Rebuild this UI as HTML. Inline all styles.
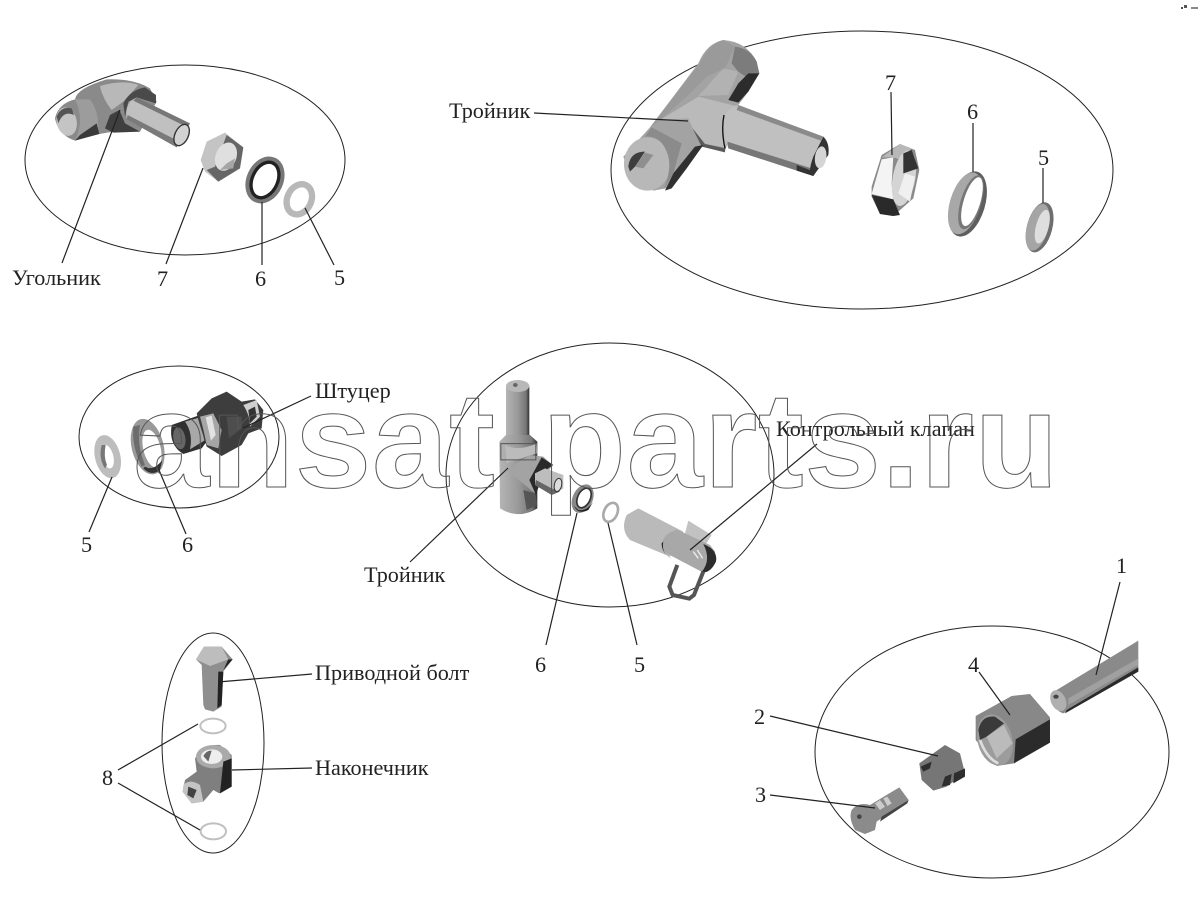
<!DOCTYPE html>
<html><head><meta charset="utf-8"><style>
html,body{margin:0;padding:0;background:#fff}
svg{display:block}
text.l{font-family:"Liberation Serif",serif;font-size:22.2px;fill:#222}
</style></head><body>
<svg width="1200" height="898" viewBox="0 0 1200 898" xmlns="http://www.w3.org/2000/svg">
<defs>
<linearGradient id="v1" x1="0" y1="0" x2="1" y2="0"><stop offset="0" stop-color="#b5b5b5"/><stop offset=".5" stop-color="#999"/><stop offset=".85" stop-color="#777"/><stop offset="1" stop-color="#333"/></linearGradient>
</defs>

<!-- ellipses -->
<g fill="none" stroke="#222" stroke-width="1">
<ellipse cx="185" cy="160" rx="160" ry="95"/>
<ellipse cx="862" cy="170" rx="251" ry="139"/>
<ellipse cx="179" cy="437" rx="100" ry="71"/>
<ellipse cx="610" cy="475" rx="164" ry="132"/>
<ellipse cx="213" cy="743" rx="51" ry="110"/>
<ellipse cx="992" cy="752" rx="177" ry="126"/>
</g>

<!-- A: elbow + nut + rings -->
<g transform="translate(30,60) scale(.3333)">
<path d="M75,175 Q85,130 135,118 Q140,85 230,58 Q310,55 360,85 L380,125 L330,215 L250,215 L190,225 L135,242 Q85,225 75,175Z" fill="#8a8a8a"/>
<path d="M135,118 L180,118 Q205,150 205,205 L135,242 Q165,180 135,118Z" fill="#9c9c9c"/>
<path d="M150,225 L200,190 L208,222 L135,242Z" fill="#3a3a3a"/>
<path d="M210,78 Q280,58 325,75 L280,125 L245,150 Q220,120 210,80Z" fill="#b8b8b8"/>
<path d="M225,205 L240,165 L268,150 L285,190 L330,215 L250,218Z" fill="#3f3f3f"/>
<path d="M280,130 Q300,90 345,82 L378,105 L378,130 L320,112 L295,125 L285,170Z" fill="#4a4a4a"/>
<ellipse cx="110" cy="185" rx="30" ry="43" transform="rotate(-12 110 185)" fill="#c4c4c4"/>
<path d="M80,170 Q92,138 125,145 L132,165 Q100,150 85,190Z" fill="#555"/>
<path d="M300,125 L320,112 L480,190 L440,262 L290,175 Q285,145 300,125Z" fill="#c0c0c0"/>
<path d="M320,112 L480,190 L473,202 L310,122Z" fill="#777"/>
<path d="M293,165 L448,245 L440,262 L290,178Z" fill="#7a7a7a"/>
<ellipse cx="455" cy="225" rx="20" ry="34" transform="rotate(25 455 225)" fill="#d2d2d2" stroke="#333" stroke-width="4"/>
<path d="M512,300 L530,245 L585,218 L640,262 L630,325 L565,365 L525,335Z" fill="#c4c4c4"/>
<path d="M590,225 L640,262 L630,325 L565,365 L530,330 L555,320Z" fill="#666"/>
<ellipse cx="588" cy="290" rx="31" ry="44" transform="rotate(22 588 290)" fill="#dfdfdf"/>
<path d="M570,330 L590,310 L615,295 L610,325Z" fill="#a5a5a5"/>
<ellipse cx="705" cy="360" rx="44" ry="62" transform="rotate(25 705 360)" fill="#fff" stroke="#777" stroke-width="22"/>
<ellipse cx="705" cy="360" rx="38" ry="56" transform="rotate(25 705 360)" fill="#fff" stroke="#222" stroke-width="10"/>
<ellipse cx="808" cy="418" rx="36" ry="47" transform="rotate(25 808 418)" fill="#fff" stroke="#b8b8b8" stroke-width="19"/>
</g>

<!-- B: tee + nut + rings -->
<g transform="translate(610,40) scale(.3333)">
<path d="M265,70 Q290,10 340,0 Q410,5 440,65 L448,100 L415,155 L385,195 L345,335 L275,315 L230,385 L185,442 L130,452 L60,410 L40,350 L120,262Z" fill="#a3a3a3"/>
<path d="M270,70 Q295,15 340,0 L375,20 L345,85 L290,110 L230,170 L150,240 L120,262Z" fill="#9a9a9a"/>
<path d="M340,85 L385,95 L355,165 L265,168Z" fill="#b2b2b2"/>
<path d="M375,20 Q420,25 440,65 L448,100 L415,115 L385,95 L365,70Z" fill="#7c7c7c"/>
<path d="M415,100 L448,100 L415,155 L385,188 L355,180 L385,130Z" fill="#2c2c2c"/>
<path d="M150,240 L265,170 L385,200 L345,322 L280,310 L248,265 L235,235Z" fill="#bababa"/>
<path d="M248,265 L285,312 L345,325 L345,337 L275,320Z" fill="#5a5a5a"/>
<path d="M190,400 L255,320 L280,315 L230,385 L185,445 L165,452Z" fill="#303030"/>
<path d="M345,225 Q355,205 385,195 L640,290 L655,340 L610,408 L355,325 Q335,280 345,225Z" fill="#c0c0c0"/>
<path d="M385,195 L640,290 L632,302 L380,210Z" fill="#8a8a8a"/>
<path d="M352,305 L605,385 L610,408 L355,325Z" fill="#777"/>
<path d="M560,375 L612,395 L610,408 L560,392Z" fill="#333"/>
<path d="M342,225 Q333,270 345,325" fill="none" stroke="#111" stroke-width="4"/>
<ellipse cx="112" cy="372" rx="70" ry="80" fill="#b8b8b8"/>
<path d="M125,262 L215,310 L190,400 L160,450 Q190,380 170,335 Q150,285 105,290Z" fill="#8b8b8b"/>
<path d="M55,380 Q60,335 105,335 L75,380 L60,395Z" fill="#3e3e3e"/>
<path d="M75,380 L105,338 L130,345 L100,385Z" fill="#8f8f8f"/>
<path d="M640,290 Q660,310 655,345 L610,408 Q590,405 610,350Z" fill="#333"/>
<ellipse cx="632" cy="352" rx="17" ry="33" transform="rotate(8 632 352)" fill="#d5d5d5"/>
<path d="M785,440 L815,345 L870,312 L915,330 L928,390 L910,475 L850,528 L810,522 L785,470Z" fill="#8a8a8a"/>
<path d="M785,462 L815,358 L850,352 L845,430 L850,478Z" fill="#f4f4f4"/>
<path d="M815,352 L870,312 L905,325 L875,360 L850,352Z" fill="#b8b8b8"/>
<path d="M785,465 L850,478 L870,525 L850,528 L810,522Z" fill="#2a2a2a"/>
<ellipse cx="882" cy="415" rx="34" ry="84" transform="rotate(10 882 415)" fill="#d4d4d4"/>
<path d="M880,340 L905,330 L925,385 L880,400Z" fill="#333"/>
<path d="M865,460 L885,400 L915,410 L900,485Z" fill="#f0f0f0"/>
<ellipse cx="1073" cy="492" rx="52" ry="101" transform="rotate(17 1073 492)" fill="#5e5e5e"/>
<ellipse cx="1066" cy="490" rx="46" ry="96" transform="rotate(17 1066 490)" fill="#a8a8a8"/>
<ellipse cx="1083" cy="487" rx="31" ry="84" transform="rotate(17 1083 487)" fill="#777"/>
<ellipse cx="1086" cy="485" rx="25" ry="76" transform="rotate(17 1086 485)" fill="#fff"/>
<ellipse cx="1289" cy="562" rx="38" ry="77" transform="rotate(15 1289 562)" fill="#6e6e6e"/>
<ellipse cx="1283" cy="562" rx="32" ry="72" transform="rotate(15 1283 562)" fill="#a5a5a5"/>
<ellipse cx="1297" cy="560" rx="19" ry="52" transform="rotate(15 1297 560)" fill="#dedede"/>
</g>

<!-- C: fitting -->
<g transform="translate(85,370) scale(.3333)">
<ellipse cx="68" cy="260" rx="38" ry="66" transform="rotate(-14 68 260)" fill="#bdbdbd"/>
<ellipse cx="68" cy="260" rx="17" ry="36" transform="rotate(-14 68 260)" fill="#fff"/>
<path d="M50,225 Q40,265 60,295 L66,285 Q55,260 62,225Z" fill="#777"/>
<ellipse cx="188" cy="230" rx="48" ry="85" transform="rotate(-14 188 230)" fill="#999"/>
<ellipse cx="201" cy="236" rx="26" ry="58" transform="rotate(-14 201 236)" fill="#fff"/>
<path d="M145,170 Q140,230 170,290 L180,285 Q155,225 165,165Z" fill="#6c6c6c"/>
<path d="M225,300 Q200,320 175,295 L180,290 Q205,305 232,270Z" fill="#333"/>
<path d="M260,165 L345,135 L365,215 L350,235 L295,252 Q250,225 260,165Z" fill="#303030"/>
<path d="M300,155 L345,142 L358,212 L315,238 Q325,190 300,155Z" fill="#a8a8a8"/>
<ellipse cx="283" cy="205" rx="18" ry="33" transform="rotate(-10 283 205)" fill="#666"/>
<path d="M335,130 L380,85 L425,65 L470,95 L510,88 L535,120 L530,175 L490,190 L470,225 L410,258 L365,230 L340,150Z" fill="#3d3d3d"/>
<path d="M345,140 L385,130 L410,180 L400,235 L365,225 Q355,175 345,140Z" fill="#a6a6a6"/>
<path d="M362,142 L380,137 L392,195 L378,212Z" fill="#e2e2e2"/>
<path d="M425,140 L470,140 L470,175 L432,205Z" fill="#4e4e4e"/>
<path d="M475,105 L515,90 L525,140 L495,170 Q495,135 475,105Z" fill="#cfcfcf"/>
<path d="M490,120 L510,110 L515,140 L495,160Z" fill="#333"/>
</g>

<!-- D: tee + valve -->
<g transform="translate(480,370) scale(.3333)">
<path d="M78,50 Q112,25 148,50 L148,225 L78,225Z" fill="url(#v1)"/>
<ellipse cx="113" cy="48" rx="35" ry="18" fill="#b8b8b8"/>
<ellipse cx="106" cy="45" rx="7" ry="6" fill="#666"/>
<path d="M58,215 L78,195 L150,195 L172,215 L172,415 Q115,450 60,415Z" fill="url(#v1)"/>
<path d="M75,225 Q115,245 170,220 L172,250 L90,275 L80,280Z" fill="#bbb"/>
<path d="M80,300 L150,255 L190,260 L217,285 L165,370 Z" fill="#a3a3a3"/>
<path d="M130,360 L165,370 L172,405 L140,420Z" fill="#555"/>
<path d="M148,330 L185,262 L220,285 L190,305 L168,375Z" fill="#2a2a2a"/>
<path d="M165,310 L195,295 L250,315 L250,355 L215,375 L165,345Z" fill="#bdbdbd"/>
<path d="M165,345 L215,375 L240,365 L215,355 L168,330Z" fill="#666"/>
<ellipse cx="234" cy="345" rx="11" ry="20" transform="rotate(12 234 345)" fill="#ddd" stroke="#333" stroke-width="3"/>
<ellipse cx="308" cy="386" rx="30" ry="45" transform="rotate(25 308 386)" fill="#888"/>
<ellipse cx="312" cy="384" rx="19" ry="31" transform="rotate(25 312 384)" fill="#fff" stroke="#333" stroke-width="5"/>
<path d="M282,408 Q295,435 325,420 L340,395 Q320,425 295,420Z" fill="#222"/>
<ellipse cx="392" cy="427" rx="20" ry="30" transform="rotate(25 392 427)" fill="#fff" stroke="#aaa" stroke-width="8"/>
<path d="M440,435 L475,415 L610,485 L570,560 L450,510 Q420,480 440,435Z" fill="#bababa"/>
<path d="M625,452 L695,495 L670,535 L615,490Z" fill="#c2c2c2"/>
<path d="M565,490 L590,478 L690,525 L705,545 L705,580 L670,608 L560,550 Q530,520 565,490Z" fill="#a8a8a8"/>
<path d="M545,520 Q545,550 575,565 L560,555 Q545,540 550,515Z" fill="#222"/>
<path d="M670,522 Q715,540 708,575 Q690,612 665,606 Q695,570 670,522Z" fill="#2c2c2c"/>
<path d="M640,545 L655,565 M652,540 L668,565" stroke="#eee" stroke-width="4"/>
<path d="M592,585 L568,650 L578,675 L628,686 L642,675 L670,605" fill="none" stroke="#555" stroke-width="12"/>
</g>

<!-- E: bolt + union -->
<g transform="translate(160,630) scale(.3333)">
<path d="M108,88 L132,50 L185,50 L218,88 L190,125 L185,230 L160,245 L135,238 L130,225 L125,105Z" fill="#8f8f8f"/>
<path d="M108,88 L132,50 L185,50 L205,88 L150,108Z" fill="#bdbdbd"/>
<path d="M175,125 L190,125 L185,225 L172,235Z" fill="#222"/>
<path d="M190,120 L218,88 L205,88Z" fill="#222"/>
<ellipse cx="159" cy="288" rx="38" ry="22" fill="#fff" stroke="#c0c0c0" stroke-width="6"/>
<path d="M105,385 Q135,340 180,345 L215,375 L215,470 L178,490 L160,480 L130,515 L95,520 L68,485 L75,450 L110,425Z" fill="#7f7f7f"/>
<ellipse cx="160" cy="380" rx="52" ry="35" fill="#aaa"/>
<ellipse cx="155" cy="380" rx="32" ry="22" fill="#eee"/>
<path d="M130,378 Q140,360 155,362 L145,395Z" fill="#666"/>
<path d="M190,395 L215,385 L215,470 L180,490Z" fill="#222"/>
<path d="M70,465 Q90,445 120,465 L130,515 L95,520 L68,485Z" fill="#c4c4c4"/>
<path d="M85,470 L110,480 L100,505 L82,495Z" fill="#444"/>
<ellipse cx="160" cy="604" rx="38" ry="24" fill="#fff" stroke="#c0c0c0" stroke-width="6"/>
</g>

<!-- F: nut, tube, ferrule, screw -->
<g transform="translate(830,630) scale(.3333)">
<path d="M680,180 L925,32 L925,125 L700,250 Q680,245 665,215 Q660,190 680,180Z" fill="#8a8a8a"/>
<path d="M715,205 L925,85 L925,105 L715,225Z" fill="#a0a0a0"/>
<path d="M710,240 L925,112 L925,125 L705,250Z" fill="#2a2a2a"/>
<ellipse cx="685" cy="212" rx="22" ry="33" transform="rotate(-25 685 212)" fill="#b0b0b0"/>
<ellipse cx="678" cy="200" rx="8" ry="6" fill="#444"/>
<path d="M437,258 L545,198 L600,192 L660,262 L660,338 L552,400 L500,408 L437,330Z" fill="#888"/>
<path d="M557,328 L660,268 L660,338 L552,400Z" fill="#2b2b2b"/>
<ellipse cx="495" cy="330" rx="52" ry="78" transform="rotate(-14 495 330)" fill="#9c9c9c"/>
<path d="M445,300 Q455,255 495,260 L522,280 L470,320 L450,330Z" fill="#3a3a3a"/>
<path d="M470,320 L522,285 L548,340 L500,385Z" fill="#bbb"/>
<path d="M450,330 Q470,385 505,400" fill="none" stroke="#ddd" stroke-width="8"/>
<path d="M268,400 L345,345 L390,370 L405,430 L350,470 L310,482 L275,450Z" fill="#767676"/>
<path d="M272,410 L305,395 L300,415 L280,425Z" fill="#2e2e2e"/>
<path d="M335,470 L345,440 L365,432 L360,465Z" fill="#2e2e2e"/>
<path d="M372,430 L405,415 L405,440 L370,460Z" fill="#2e2e2e"/>
<path d="M120,525 L208,472 L236,510 L140,575 L135,600 L105,612 L75,600 Q55,565 65,540 Q85,515 120,525Z" fill="#8b8b8b"/>
<path d="M135,520 L150,510 L165,530 L150,540Z M160,505 L172,500 L185,520 L172,528Z" fill="#ccc"/>
<path d="M155,560 L236,510 L232,520 L150,575Z" fill="#444"/>
<circle cx="88" cy="560" r="7" fill="#444"/>
</g>

<!-- leader lines -->
<g fill="none" stroke="#222" stroke-width="1.2">
<path d="M120,110 L62,263"/>
<path d="M203,168 L166,264"/>
<path d="M262,202 L262,265"/>
<path d="M305,208 L334,265"/>
<path d="M534,113 L688,121"/>
<path d="M891,92 L892,155"/>
<path d="M973,123 L973,172"/>
<path d="M1043,168 L1043,203"/>
<path d="M311,396 L243,428"/>
<path d="M112,477 L89,532"/>
<path d="M159,470 L186,534"/>
<path d="M508,468 L410,562"/>
<path d="M690,550 L817,444"/>
<path d="M577,513 L546,645"/>
<path d="M608,523 L637,645"/>
<path d="M218,682 L312,674"/>
<path d="M232,770 L312,768"/>
<path d="M118,770 L198,724"/>
<path d="M118,783 L200,830"/>
<path d="M1120,582 L1096,675"/>
<path d="M979,672 L1010,715"/>
<path d="M770,716 L938,756"/>
<path d="M770,795 L875,808"/>
</g>

<!-- labels -->
<text class="l" x="12" y="285">Угольник</text>
<text class="l" x="157" y="286">7</text>
<text class="l" x="255" y="286">6</text>
<text class="l" x="334" y="285">5</text>
<text class="l" x="449" y="118">Тройник</text>
<text class="l" x="885" y="90">7</text>
<text class="l" x="967" y="119">6</text>
<text class="l" x="1038" y="165">5</text>
<text class="l" x="315" y="398">Штуцер</text>
<text class="l" x="81" y="552">5</text>
<text class="l" x="182" y="552">6</text>
<text class="l" x="364" y="582">Тройник</text>
<text class="l" x="776" y="436">Контрольный клапан</text>
<text class="l" x="535" y="672">6</text>
<text class="l" x="634" y="672">5</text>
<text class="l" x="315" y="680">Приводной болт</text>
<text class="l" x="315" y="775">Наконечник</text>
<text class="l" x="102" y="785">8</text>
<text class="l" x="1116" y="573">1</text>
<text class="l" x="968" y="672">4</text>
<text class="l" x="754" y="724">2</text>
<text class="l" x="755" y="802">3</text>

<!-- tiny mark -->
<g fill="#555"><rect x="1181" y="7" width="2" height="2"/><rect x="1184" y="5" width="3" height="3"/><rect x="1191" y="7" width="7" height="2" fill="#888"/></g>

<!-- watermark -->
<text x="133" y="487" font-family="Liberation Sans, sans-serif" font-weight="700" font-size="136" fill="none" stroke="#555" stroke-width="1" transform="translate(133,0) scale(1.012,1) translate(-133,0)" letter-spacing="0.6">ansat-parts.ru</text>
</svg>
</body></html>
